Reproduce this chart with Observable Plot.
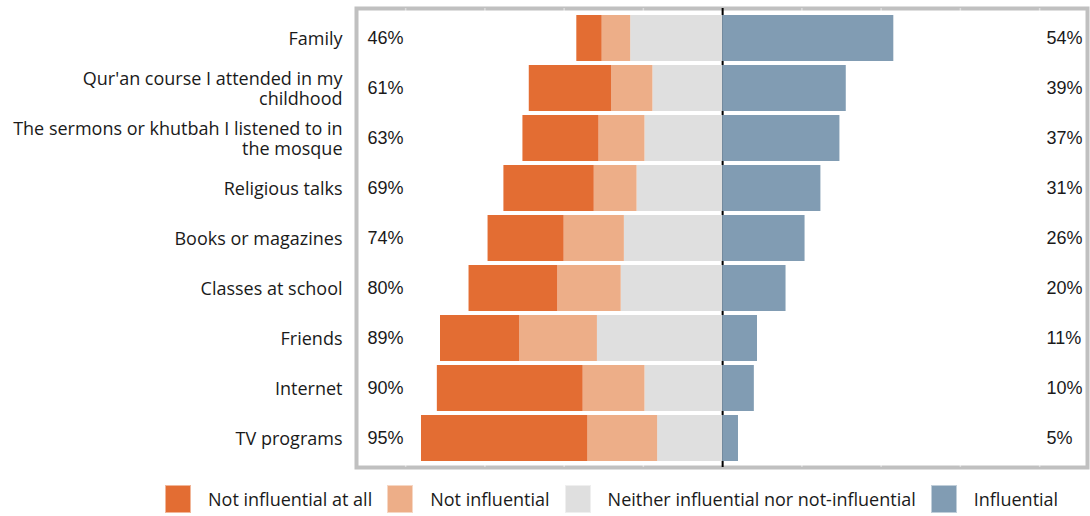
<!DOCTYPE html>
<html>
<head>
<meta charset="utf-8">
<script src="https://cdn.jsdelivr.net/npm/d3@7"></script>
<script src="https://cdn.jsdelivr.net/npm/@observablehq/plot@0.6"></script>
<style>
  html, body { margin: 0; padding: 0; background: #fff; }
  #chart svg { display: block; }
  .legend { display: flex; align-items: center; padding-left: 165px; margin-top: 15px;
            font-family: "Open Sans", sans-serif; font-size: 18px; color: #1a1a1a; }
  .legend .item { display: flex; align-items: center; margin-right: 15px; }
  .legend .sw { width: 26px; height: 28px; margin-right: 17px; box-sizing: border-box; border: 1px solid rgba(255,255,255,0.5); }
</style>
</head>
<body>
<div id="chart"></div>
<div class="legend" id="legend"></div>
<script>
const categories = [
  "Family",
  "Qur'an course I attended in my\nchildhood",
  "The sermons or khutbah I listened to in\nthe mosque",
  "Religious talks",
  "Books or magazines",
  "Classes at school",
  "Friends",
  "Internet",
  "TV programs"
];
const responses = ["Not influential at all", "Not influential", "Neither influential nor not-influential", "Influential"];
const colors = ["#e36d33", "#edae88", "#dfdfdf", "#819cb3"];

const notAtAll       = [8, 26, 24, 28.5, 24, 28, 25, 46, 52.5];
const notInfluential = [9, 13, 14.5, 13.5, 19, 20, 24.5, 19.5, 22];
const neither        = [29, 22, 24.5, 27, 31, 32, 39.5, 24.5, 20.5];
const influential    = [54, 39, 37, 31, 26, 20, 11, 10, 5];
const negativeTotals = [46, 61, 63, 69, 74, 80, 89, 90, 95];
const gridTicks = [-100, -75, -50, -25, 25, 50, 75, 100];

const table = [];
categories.forEach((c, i) => {
  table.push({category: c, response: responses[2], value: -neither[i]});
  table.push({category: c, response: responses[1], value: -notInfluential[i]});
  table.push({category: c, response: responses[0], value: -notAtAll[i]});
  table.push({category: c, response: responses[3], value: influential[i]});
});
const labels = categories.map((c, i) => ({category: c, neg: negativeTotals[i], pos: influential[i]}));

const chart = Plot.plot({
  width: 1090,
  height: 470,
  marginLeft: 356,
  marginRight: 3,
  marginTop: 8,
  marginBottom: 3,
  x: {domain: [-115.5, 115.1], axis: null},
  y: {domain: categories, axis: null, padding: 0.08, range: [10, 466]},
  color: {domain: responses, range: colors},
  style: {background: "#fff"},
  marks: [
    Plot.frame({stroke: "#c0c0c0", strokeWidth: 4}),
    Plot.ruleX(gridTicks, {stroke: "#fff", strokeOpacity: 0.45, strokeWidth: 1.5}),
    Plot.ruleX([0], {stroke: "#000", strokeWidth: 2}),
    Plot.barX(table, {
      y: "category", x: "value", fill: "response",
      order: [responses[2], responses[1], responses[0], responses[3]]
    }),
    Plot.text(labels, {
      y: "category", text: "category", frameAnchor: "left", textAnchor: "end", dx: -14,
      fontFamily: "Open Sans", fontSize: 18, fill: "#1a1a1a", lineHeight: 1.1
    }),
    Plot.text(labels, {
      y: "category", text: d => d.neg + "%", frameAnchor: "left", textAnchor: "start", dx: 11,
      fontFamily: "Liberation Sans", fontSize: 18, fill: "#1a1a1a"
    }),
    Plot.text(labels, {
      y: "category", text: d => d.pos + "%", frameAnchor: "right", textAnchor: "start", dx: -41,
      fontFamily: "Liberation Sans", fontSize: 18, fill: "#1a1a1a"
    })
  ]
});
document.getElementById("chart").appendChild(chart);

const legend = document.getElementById("legend");
responses.forEach((r, i) => {
  const item = document.createElement("div");
  item.className = "item";
  const sw = document.createElement("div");
  sw.className = "sw";
  sw.style.background = colors[i];
  const t = document.createElement("span");
  t.textContent = r;
  item.appendChild(sw);
  item.appendChild(t);
  legend.appendChild(item);
});
</script>
</body>
</html>
